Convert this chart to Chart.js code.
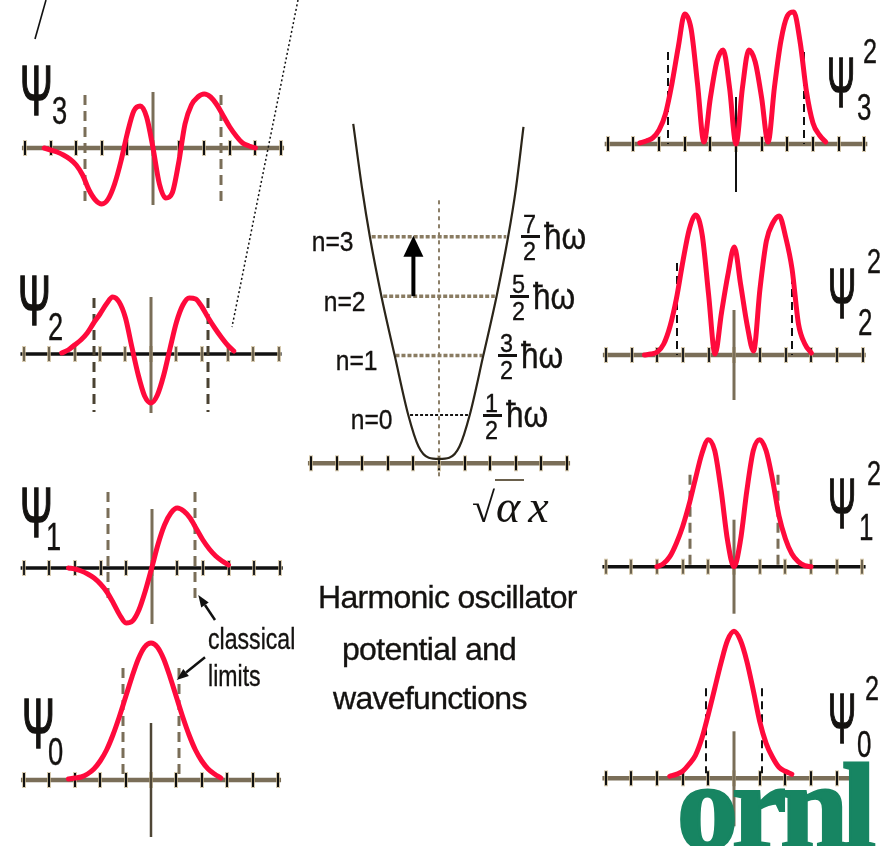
<!DOCTYPE html>
<html>
<head>
<meta charset="utf-8">
<script src="https://cdn.jsdelivr.net/npm/chart.js@4.4.1/dist/chart.umd.min.js"></script>
<style>
  body { margin: 0; background: #fff; }
  #fig { position: relative; width: 896px; height: 846px; overflow: hidden; background: #fff; }
  #fig canvas { position: absolute; left: 0; top: 0; }
  #fig svg { position: absolute; left: 0; top: 0; }
  .lbl { position: absolute; white-space: nowrap; font-family: "Liberation Sans", Arial, sans-serif;
         color: #141210; transform-origin: left top; -webkit-text-stroke: 0.35px #141210; }
</style>
</head>
<body>
<div id="fig"></div>
<script>
const _ = null;

// sample positions along sqrt(alpha)*x
const xGrid = [-4.25, -4, -3.75, -3.5, -3.25, -3, -2.75, -2.5, -2.25, -2, -1.75, -1.5, -1.25, -1,
  -0.75, -0.5, -0.25, 0, 0.25, 0.5, 0.75, 1, 1.25, 1.5, 1.75, 2, 2.25, 2.5, 2.75, 3, 3.25, 3.5,
  3.75, 4, 4.25];
const tickValues = [-5, -4, -3, -2, -1, 0, 1, 2, 3, 4, 5];

// wavefunctions
const psi3 = [0.00, -0.02, -0.04, -0.07, -0.11, -0.17, -0.27, -0.42, -0.52, -0.56, -0.51, -0.36,
  -0.13, 0.15, 0.37, 0.42, 0.31, 0, -0.36, -0.50, -0.45, -0.15, 0.24, 0.43, 0.51, 0.54, 0.51,
  0.43, 0.32, 0.21, 0.12, 0.05, 0.02, 0.00, _];
const psi2 = [_, _, _, 0.01, 0.04, 0.09, 0.14, 0.21, 0.31, 0.40, 0.50, 0.57, 0.52, 0.36, 0.07,
  -0.21, -0.42, -0.49, -0.41, -0.21, 0.06, 0.32, 0.49, 0.56, 0.55, 0.47, 0.36, 0.26, 0.17, 0.09,
  0.03, _, _, _, _];
const psi1 = [_, _, _, _, 0.00, -0.01, -0.03, -0.06, -0.10, -0.16, -0.24, -0.35, -0.47, -0.55,
  -0.53, -0.42, -0.23, 0, 0.24, 0.43, 0.55, 0.60, 0.57, 0.50, 0.39, 0.28, 0.19, 0.12, 0.07, 0.03,
  _, _, _, _, _];
const psi0 = [_, _, _, _, 0.01, 0.02, 0.03, 0.06, 0.11, 0.19, 0.30, 0.45, 0.63, 0.83, 1.03, 1.21,
  1.33, 1.37, 1.33, 1.21, 1.03, 0.83, 0.63, 0.45, 0.30, 0.19, 0.11, 0.06, 0.02, _, _, _, _, _, _];

// probability densities
const psi3sq = [_, _, 0.01, 0.03, 0.06, 0.14, 0.30, 0.60, 0.97, 1.30, 1.15, 0.60, 0.02, 0.46, 0.82,
  0.94, 0.56, 0, 0.56, 0.94, 0.82, 0.46, 0.02, 0.57, 1.03, 1.28, 1.32, 1.02, 0.52, 0.21, 0.09,
  0.02, _, _, _];
const psi2sq = [_, _, _, 0.00, 0.01, 0.03, 0.11, 0.29, 0.57, 0.94, 1.26, 1.40, 1.20, 0.60, 0.01,
  0.42, 0.80, 1.08, 0.70, 0.30, 0.04, 0.66, 1.14, 1.32, 1.39, 1.18, 0.86, 0.31, 0.11, 0.02,
  _, _, _, _, _];
const psi1sq = [_, _, _, _, _, 0.00, 0.03, 0.10, 0.23, 0.40, 0.62, 0.88, 1.13, 1.27, 1.16, 0.76,
  0.26, 0, 0.26, 0.76, 1.16, 1.27, 1.16, 0.87, 0.51, 0.28, 0.13, 0.05, 0.01, 0.00, _, _, _, _, _];
const psi0sq = [_, _, _, _, _, _, _, 0.02, 0.04, 0.07, 0.14, 0.23, 0.40, 0.64, 0.90, 1.16, 1.38,
  1.47, 1.38, 1.17, 0.88, 0.57, 0.35, 0.21, 0.11, 0.07, 0.04, _, _, _, _, _, _, _, _];

// classical turning points for n = 0..3
const classicalLimit = [1.1, 1.7, 2.25, 2.66];

// potential well and energy levels (units of hbar*omega)
const potX = [-3.35, -3.0, -2.7, -2.25, -1.73, -1.2, -0.8, -0.4, 0, 0.4, 0.8, 1.2, 1.73, 2.25, 2.7, 3.0, 3.3];
const potV = [5.4, 4.3, 3.5, 2.5, 1.5, 0.5, -0.03, -0.22, -0.24, -0.22, -0.03, 0.5, 1.5, 2.5, 3.5, 4.3, 5.35];
const levels = [0.5, 1.5, 2.5, 3.5];
const levelHalf = [1.13, 1.7, 2.18, 2.63];
const transition = { from: 2, to: 3, at: -1.0 };

const W = 896, H = 846, AMP = 100;
const RED = '#ff0a3c', GRAY = '#7a6e58', TAN = '#6e6450';
const fig = document.getElementById('fig');

// axis, ticks, classical limits and centre line, drawn from each chart's scales
const decor = {
  id: 'decor',
  beforeDatasetsDraw(chart, args, o) {
    const ctx = chart.ctx, xs = chart.scales.x, ys = chart.scales.y;
    const y0 = ys.getPixelForValue(0) + (o.axisShift || 0);
    const xc = xs.getPixelForValue(0);
    ctx.save();
    ctx.lineCap = 'butt';
    ctx.strokeStyle = o.axisColor;
    ctx.lineWidth = o.axisWidth;
    ctx.beginPath();
    ctx.moveTo(xs.getPixelForValue(-5.12), y0);
    ctx.lineTo(xs.getPixelForValue(5.12), y0);
    ctx.stroke();
    tickValues.forEach(t => {
      const px = Math.round(xs.getPixelForValue(t));
      ctx.strokeStyle = 'rgba(200,182,145,0.7)';
      ctx.lineWidth = 4;
      ctx.beginPath(); ctx.moveTo(px, y0 - 8); ctx.lineTo(px, y0 + 8); ctx.stroke();
      ctx.strokeStyle = o.tickColor;
      ctx.lineWidth = 2;
      ctx.beginPath(); ctx.moveTo(px, y0 - 7); ctx.lineTo(px, y0 + 7); ctx.stroke();
    });
    if (o.limit) {
      const L = o.limit;
      ctx.strokeStyle = L.color;
      ctx.lineWidth = L.width;
      ctx.setLineDash(L.dash);
      [-L.at, L.at].forEach(v => {
        const px = Math.round(xs.getPixelForValue(v));
        ctx.beginPath(); ctx.moveTo(px, y0 + L.span[0]); ctx.lineTo(px, y0 + L.span[1]); ctx.stroke();
      });
    }
    const c = o.center;
    ctx.strokeStyle = c.color;
    ctx.lineWidth = c.width;
    ctx.setLineDash(c.dash || []);
    ctx.beginPath();
    ctx.moveTo(Math.round(xc), y0 + c.span[0]);
    ctx.lineTo(Math.round(xc), y0 + c.span[1]);
    ctx.stroke();
    ctx.restore();
  }
};

// n=2 -> n=3 transition arrow
const transitionArrow = {
  id: 'transitionArrow',
  afterDatasetsDraw(chart, args, o) {
    const ctx = chart.ctx, xs = chart.scales.x, ys = chart.scales.y;
    const px = xs.getPixelForValue(o.at);
    const yFrom = ys.getPixelForValue(o.from), yTo = ys.getPixelForValue(o.to);
    ctx.save();
    ctx.strokeStyle = '#000';
    ctx.fillStyle = '#000';
    ctx.lineWidth = 4;
    ctx.beginPath(); ctx.moveTo(px, yFrom); ctx.lineTo(px, yTo + 18); ctx.stroke();
    ctx.beginPath();
    ctx.moveTo(px, yTo - 1);
    ctx.lineTo(px - 10, yTo + 20);
    ctx.lineTo(px + 10, yTo + 20);
    ctx.closePath();
    ctx.fill();
    ctx.restore();
  }
};

function newCanvas() {
  const cv = document.createElement('canvas');
  cv.width = W;
  cv.height = H;
  fig.appendChild(cv);
  return cv;
}

function baseOptions(cx, ux, yMin, yMax) {
  return {
    responsive: false,
    animation: false,
    devicePixelRatio: 1,
    layout: { padding: 0 },
    events: [],
    scales: {
      x: { type: 'linear', display: false, min: -cx / ux, max: (W - cx) / ux },
      y: { type: 'linear', display: false, min: yMin, max: yMax }
    },
    plugins: { legend: { display: false }, tooltip: { enabled: false } }
  };
}

const panels = [
  { data: psi3, cx: 153, cy: 148, ux: 25.6, n: 3, axis: GRAY, axisW: 4.5, tick: '#111',
    limit: { color: GRAY, width: 3, dash: [10, 6], span: [-53, 57] },
    center: { color: GRAY, width: 3, span: [-56, 57] } },
  { data: psi2, cx: 151, cy: 354, ux: 25.5, n: 2, axis: '#111', axisW: 3.5, tick: TAN,
    limit: { color: '#4a4232', width: 3, dash: [10, 6], span: [-56, 58] },
    center: { color: GRAY, width: 3, span: [-57, 59] } },
  { data: psi1, cx: 151.7, cy: 568, ux: 25.6, n: 1, axis: '#111', axisW: 3.5, tick: '#222',
    limit: { color: GRAY, width: 3, dash: [10, 6], span: [-76, 35] },
    center: { color: GRAY, width: 3, span: [-59, 56] } },
  { data: psi0, cx: 151, cy: 780, ux: 25.4, n: 0, axis: GRAY, axisW: 4.5, tick: '#111',
    limit: { color: GRAY, width: 3, dash: [10, 6], span: [-112, -2] },
    center: { color: '#4f4636', width: 2.5, span: [-57, 57] } },
  { data: psi3sq, cx: 736, cy: 144, ux: 25.65, n: 3, axis: GRAY, axisW: 4.5, tick: '#111',
    limit: { color: '#111', width: 2, dash: [8, 5], span: [-92, 0] },
    center: { color: '#111', width: 2, span: [-47, 48] } },
  { data: psi2sq, cx: 734.3, cy: 355, ux: 25.67, n: 2, axis: GRAY, axisW: 4.5, tick: '#222',
    limit: { color: '#111', width: 2, dash: [8, 5], span: [-92, 0] },
    center: { color: GRAY, width: 3, span: [-45, 45] } },
  { data: psi1sq, cx: 734, cy: 566.7, ux: 25.7, n: 1, axis: '#111', axisW: 3.5, tick: TAN,
    limit: { color: GRAY, width: 3, dash: [10, 6], span: [-92, 0] },
    center: { color: GRAY, width: 3, span: [-47, 47] } },
  { data: psi0sq, cx: 734, cy: 778.3, ux: 25.7, n: 0, axis: GRAY, axisW: 4.5, tick: '#111',
    limit: { color: '#111', width: 2, dash: [8, 5], span: [-90, -5] },
    center: { color: GRAY, width: 3, span: [-47, 48] } }
];

panels.forEach(p => {
  const opts = baseOptions(p.cx, p.ux, -(H - p.cy) / AMP, p.cy / AMP);
  opts.plugins.decor = {
    axisColor: p.axis, axisWidth: p.axisW, tickColor: p.tick,
    limit: Object.assign({ at: classicalLimit[p.n] }, p.limit),
    center: p.center
  };
  new Chart(newCanvas(), {
    type: 'line',
    data: {
      datasets: [{
        data: xGrid.map((x, i) => ({ x: x, y: p.data[i] })),
        borderColor: RED,
        borderWidth: 5,
        borderCapStyle: 'round',
        borderJoinStyle: 'round',
        pointRadius: 0,
        cubicInterpolationMode: 'monotone',
        spanGaps: false,
        clip: false
      }]
    },
    options: opts,
    plugins: [decor]
  });
});

// potential well panel: energy scale, E = 0 at y 444.7, 59.4 px per hbar*omega
const MID = { cx: 439, ux: 25.6, e0: 444.7, eu: 59.4, axisShift: 18.6 };
const midOpts = baseOptions(MID.cx, MID.ux, -(H - MID.e0) / MID.eu, MID.e0 / MID.eu);
midOpts.plugins.decor = {
  axisShift: MID.axisShift, axisColor: GRAY, axisWidth: 4.5, tickColor: '#111',
  center: { color: '#8c7f68', width: 2, dash: [4, 4], span: [-263, 14] }
};
midOpts.plugins.transitionArrow = {
  at: transition.at, from: levels[transition.from], to: levels[transition.to]
};
const mid = new Chart(newCanvas(), {
  type: 'line',
  data: {
    datasets: [{
      data: potX.map((x, i) => ({ x: x, y: potV[i] })),
      borderColor: '#2b2519',
      borderWidth: 2.2,
      pointRadius: 0,
      cubicInterpolationMode: 'monotone',
      clip: false
    }].concat(levels.map((E, n) => ({
      data: [{ x: -levelHalf[n], y: E }, { x: levelHalf[n], y: E }],
      borderColor: n === 0 ? '#161412' : '#8a7c62',
      borderWidth: n === 0 ? 2 : 3.5,
      borderDash: n === 0 ? [3, 2] : [4, 2],
      pointRadius: 0,
      clip: false
    })))
  },
  options: midOpts,
  plugins: [decor, transitionArrow]
});

// text helpers
function addText(str, x, capTop, size, o) {
  o = o || {};
  const d = document.createElement('div');
  d.className = 'lbl';
  d.textContent = str;
  d.style.fontSize = size + 'px';
  d.style.lineHeight = size + 'px';
  d.style.top = (capTop - 0.13 * size) + 'px';
  if (o.right) {
    d.style.right = (W - x) + 'px';
    d.style.transformOrigin = 'right top';
  } else {
    d.style.left = x + 'px';
  }
  if (o.sx) d.style.transform = 'scaleX(' + o.sx + ')';
  if (o.width) { d.style.width = o.width + 'px'; d.style.textAlign = 'center'; }
  if (o.spacing) d.style.letterSpacing = o.spacing + 'px';
  if (o.stroke) d.style.webkitTextStroke = o.stroke + 'px #141210';
  fig.appendChild(d);
  return d;
}

// psi labels
const psiLabels = [
  { x: 20, y: 65, sub: '3', sx: 52, sy: 97 },
  { x: 18, y: 275, sub: '2', sx: 48, sy: 313 },
  { x: 20, y: 487, sub: '1', sx: 46, sy: 523 },
  { x: 22, y: 698, sub: '0', sx: 48, sy: 738 }
];
psiLabels.forEach(l => {
  addText('Ψ', l.x, l.y, 70, { sx: 0.56, stroke: 1.6 });
  addText(l.sub, l.sx, l.sy, 38, { sx: 0.72 });
});
const psiSqLabels = [
  { x: 827, y: 57, sub: '3', bx: 857, by: 95, px: 863, py: 38 },
  { x: 828, y: 268, sub: '2', bx: 858, by: 310, px: 867, py: 248 },
  { x: 828, y: 478, sub: '1', bx: 859, by: 515, px: 867, py: 460 },
  { x: 828, y: 693, sub: '0', bx: 857, by: 732, px: 865, py: 675 }
];
psiSqLabels.forEach(l => {
  addText('Ψ', l.x, l.y, 70, { sx: 0.48, stroke: 1.6 });
  addText(l.sub, l.bx, l.by, 36, { sx: 0.72 });
  addText('2', l.px, l.py, 35, { sx: 0.72 });
});

// energy level labels, placed from the level data
levels.forEach((E, n) => {
  const yPx = mid.scales.y.getPixelForValue(E);
  const xl = mid.scales.x.getPixelForValue(-levelHalf[n]);
  const xr = mid.scales.x.getPixelForValue(levelHalf[n]);
  addText('n=' + n, xl - 18, yPx - 5, 28, { right: true, sx: 0.88 });
  const fx = xr + 15;
  addText(String(Math.round(E * 2)), fx, yPx - 22, 26, { width: 19, sx: 0.9 });
  addText('2', fx, yPx + 5, 26, { width: 19, sx: 0.9 });
  const bar = document.createElement('div');
  bar.style.cssText = 'position:absolute;background:#141210;height:3px;width:19px;left:' + fx +
    'px;top:' + (yPx - 1.5) + 'px';
  fig.appendChild(bar);
  addText('ħω', fx + 23, yPx - 13, 36, { sx: 0.88 });
});

// x axis variable
const ax = document.createElement('div');
ax.className = 'lbl';
ax.style.cssText += 'left:472px;top:484px;font-family:"Liberation Serif",serif;font-size:46px;line-height:46px;-webkit-text-stroke:0;';
ax.innerHTML = '<span style="font-family:\'DejaVu Sans\';font-size:42px;font-weight:200">√</span>' +
  '<span style="font-style:italic;border-top:2px solid #6a604c;padding:0 4px 0 1px">α</span>' +
  '<span style="font-style:italic;margin-left:4px">x</span>';
fig.appendChild(ax);

// caption
addText('Harmonic oscillator', 318, 585, 32, { spacing: -0.7 });
addText('potential and', 342, 637, 32, { spacing: -0.7 });
addText('wavefunctions', 333, 686, 32, { spacing: -0.7 });

addText('classical', 208, 628, 30, { sx: 0.77 });
addText('limits', 208, 665, 30, { sx: 0.77 });

// lab logo
const logo = addText('ornl', 677, 763, 122, {});
logo.style.fontFamily = '"Liberation Serif", serif';
logo.style.fontWeight = 'bold';
logo.style.color = '#178562';
logo.style.webkitTextStroke = '3px #178562';
logo.style.letterSpacing = '-6px';
logo.style.lineHeight = '122px';
logo.style.top = (848 - 0.8375 * 122) + 'px';

// pointer lines and arrows
function arrow(x1, y1, x2, y2) {
  const dx = x2 - x1, dy = y2 - y1, len = Math.hypot(dx, dy);
  const ux = dx / len, uy = dy / len, bx = x2 - 12 * ux, by = y2 - 12 * uy;
  const nx = -uy * 4.5, ny = ux * 4.5;
  return '<line x1="' + x1 + '" y1="' + y1 + '" x2="' + bx + '" y2="' + by +
    '" stroke="#111" stroke-width="2.5"/>' +
    '<polygon fill="#111" points="' + x2 + ',' + y2 + ' ' + (bx + nx) + ',' + (by + ny) + ' ' +
    (bx - nx) + ',' + (by - ny) + '"/>';
}
const svgNS = 'http://www.w3.org/2000/svg';
const svg = document.createElementNS(svgNS, 'svg');
svg.setAttribute('width', W);
svg.setAttribute('height', H);
svg.innerHTML =
  '<line x1="35" y1="39" x2="46" y2="0" stroke="#111" stroke-width="1.6"/>' +
  '<line x1="298" y1="0" x2="232" y2="327" stroke="#111" stroke-width="1.5" stroke-dasharray="2 2.5"/>' +
  arrow(215, 620, 198.3, 595) +
  arrow(205, 657.3, 176.7, 680);
fig.appendChild(svg);
</script>
</body>
</html>
